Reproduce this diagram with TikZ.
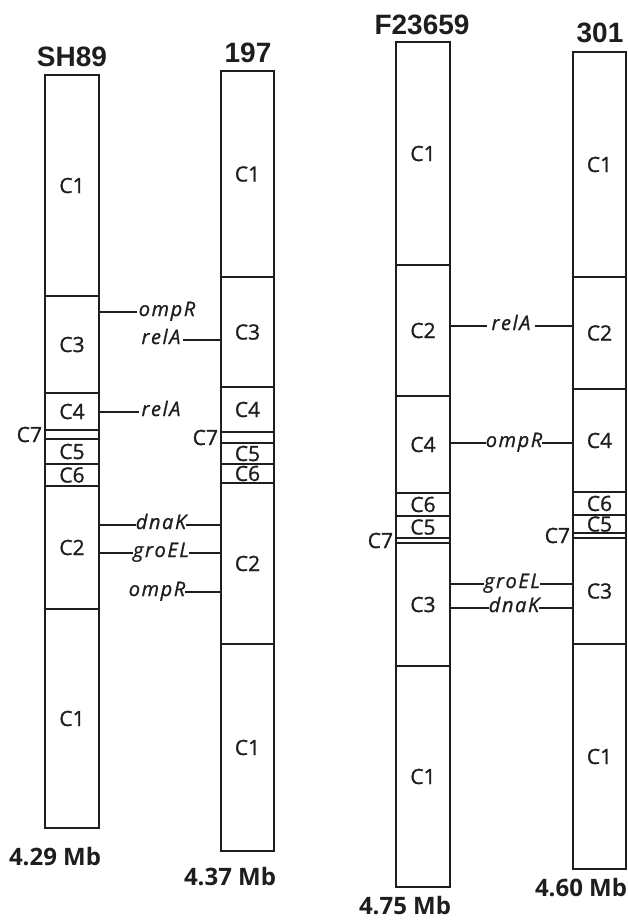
\documentclass[tikz,border=0pt]{standalone}
\usepackage{fontspec}
\setmainfont{Open Sans}
\newfontfamily\titlefont{Liberation Sans}
\newfontfamily\labfont[FakeBold=1.2]{Open Sans}
\newfontfamily\genefont[LetterSpace=8,FakeBold=1]{Open Sans}
\usepackage{tikz}
\usetikzlibrary{positioning,calc}
\definecolor{ink}{HTML}{1E1E1E}

\begin{document}
\begin{tikzpicture}[x=1pt,y=-1pt,
    seg/.style={draw=ink, line width=1.6pt, minimum width=54pt, inner sep=0pt, text=ink, font=\fontsize{21}{21}\labfont},
    clab/.style={text=ink, inner sep=2pt, font=\fontsize{21}{21}\labfont},
    gene/.style={text=ink, inner sep=2pt, text height=10pt, text depth=2pt, font=\fontsize{20}{20}\genefont\itshape},
    ttl/.style={text=ink, font=\fontsize{28}{28}\selectfont\titlefont\bfseries},
    sz/.style={text=ink, font=\fontsize{24}{24}\selectfont\bfseries},
    ln/.style={-, draw=ink, line width=1.5pt}
  ]
    \useasboundingbox (0,0) rectangle (627,924);
    % ---- SH89 ----
    \foreach \t/\b/\l/\n in {75/296/C1/a1, 296/393/C3/a2, 393/430/C4/a3, 430/439/{}/a4,
        439/464/C5/a5, 464/486/C6/a6, 486/609/C2/a7, 609/828/C1/a8}
      \node[seg, minimum height={(\b-\t)*1pt}] (\n) at (72,{(\t+\b)/2}) {\l};
    \node[clab, left] (a7l) at (a4.west) {C7};
    \node[ttl] (ta) at (72,57) {SH89};
    \node[sz] (ma) at (55,857) {4.29 Mb};
    % ---- 197 ----
    \foreach \t/\b/\l/\n in {71/277/C1/b1, 277/387/C3/b2, 387/432/C4/b3, 432/443/{}/b4,
        443/464/C5/b5, 464/483/C6/b6, 483/644/C2/b7, 644/851/C1/b8}
      \node[seg, minimum height={(\b-\t)*1pt}, minimum width=53pt] (\n) at (247.5,{(\t+\b)/2}) {\l};
    \node[clab, left] (b7l) at (b4.west) {C7};
    \node[ttl] (tb) at (248,53) {197};
    \node[sz] (mb) at (230,877) {4.37 Mb};
    % ---- F23659 ----
    \foreach \t/\b/\l/\n in {42/265/C1/c1, 265/396/C2/c2, 396/493/C4/c3, 493/516/C6/c4,
        516/538/C5/c5, 538/543/{}/c6, 543/666/C3/c7, 666/887/C1/c8}
      \node[seg, minimum height={(\b-\t)*1pt}] (\n) at (423,{(\t+\b)/2}) {\l};
    \node[clab, left] (c7l) at (c6.west) {C7};
    \node[ttl] (tc) at (422,25) {F23659};
    \node[sz] (mc) at (405,906) {4.75 Mb};
    % ---- 301 ----
    \foreach \t/\b/\l/\n in {52/277/C1/d1, 277/389/C2/d2, 389/492/C4/d3, 492/515/C6/d4,
        515/533/C5/d5, 533/538/{}/d6, 538/644/C3/d7, 644/869/C1/d8}
      \node[seg, minimum height={(\b-\t)*1pt}, minimum width=53pt] (\n) at (599.5,{(\t+\b)/2}) {\l};
    \node[clab, left] (d7l) at (d6.west) {C7};
    \node[ttl] (td) at (600,33) {301};
    \node[sz] (md) at (581,888) {4.60 Mb};
    % ---- genes, SH89 vs 197 ----
    \node[gene] (g1) at (167,312) {ompR};
    \draw[ln] (a2.east |- g1) -- (g1.west);
    \node[gene] (g2) at (161,412) {relA};
    \draw[ln] (a3.east |- g2) -- (g2.west);
    \node[gene] (g3) at (161,340) {relA};
    \draw[ln] (g3.east) -- (b2.west |- g3);
    \node[gene, inner sep=0pt] (g4) at (161,525) {dnaK};
    \draw[ln] (a7.east |- g4) -- (g4.west);
    \draw[ln] (g4.east) -- (b7.west |- g4);
    \node[gene, inner sep=0pt] (g5) at (161,553) {groEL};
    \draw[ln] (a7.east |- g5) -- (g5.west);
    \draw[ln] (g5.east) -- (b7.west |- g5);
    \node[gene, inner sep=0pt] (g6) at (157,592) {ompR};
    \draw[ln] (g6.east) -- (b7.west |- g6);
    % ---- genes, F23659 vs 301 ----
    \node[gene, inner sep=4pt] (h1) at (511,326) {relA};
    \draw[ln] (c2.east |- h1) -- (h1.west);
    \draw[ln] (h1.east) -- (d2.west |- h1);
    \node[gene, inner sep=0pt] (h2) at (514,443) {ompR};
    \draw[ln] (c3.east |- h2) -- (h2.west);
    \draw[ln] (h2.east) -- (d3.west |- h2);
    \node[gene, inner sep=0pt] (h3) at (512,584) {groEL};
    \draw[ln] (c7.east |- h3) -- (h3.west);
    \draw[ln] (h3.east) -- (d7.west |- h3);
    \node[gene, inner sep=0pt] (h4) at (514,608) {dnaK};
    \draw[ln] (c7.east |- h4) -- (h4.west);
    \draw[ln] (h4.east) -- (d7.west |- h4);
  \end{tikzpicture}
\end{document}
